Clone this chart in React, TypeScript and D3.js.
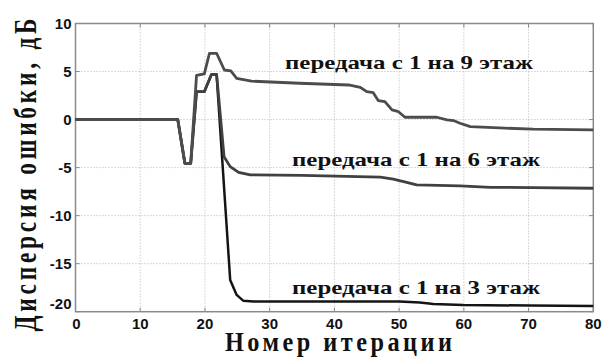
import React from "react";
import * as d3 from "d3";

const W = 605;
const H = 358;

const xTicks = [0, 10, 20, 30, 40, 50, 60, 70, 80];
const yTicks = [10, 5, 0, -5, -10, -15, -20];

// curve: transmission from floor 1 to floor 9
const floor9X = [0, 15.8, 16.9, 17.8, 18.7, 19.9, 20.7, 21.8, 23, 24, 24.9, 27.2, 34.6, 42.2, 44, 45, 46, 46.8, 47.8, 48.9, 49.9, 50.9, 55.8, 57.4, 58.4, 59.4, 61, 65.5, 70.7, 80];
const floor9Y = [0, 0, -4.55, -4.55, 4.6, 4.75, 6.9, 6.9, 5.16, 5.06, 4.3, 4.0, 3.78, 3.6, 3.36, 2.9, 2.8, 1.97, 1.86, 1.0, 0.82, 0.24, 0.24, -0.04, -0.1, -0.38, -0.73, -0.87, -1.0, -1.08];

// curve: transmission from floor 1 to floor 6
const floor6X = [0, 15.8, 16.9, 17.8, 18.7, 19.9, 21.0, 21.8, 22.95, 23.9, 25.2, 27, 35, 47.1, 49.1, 50.7, 52.7, 59.4, 64.1, 70.7, 80];
const floor6Y = [0, 0, -4.55, -4.55, 2.9, 2.9, 4.7, 4.7, -3.86, -4.9, -5.5, -5.76, -5.8, -6.0, -6.2, -6.46, -6.8, -6.9, -7.05, -7.08, -7.15];

// curve: transmission from floor 1 to floor 3
const floor3X = [0, 15.8, 16.9, 17.8, 18.7, 19.9, 21.0, 21.8, 23.9, 24.9, 25.9, 27.5, 50.1, 53.2, 55.3, 59.9, 70.2, 80];
const floor3Y = [0, 0, -4.55, -4.55, 2.9, 2.9, 4.7, 4.7, -16.7, -18.25, -18.85, -18.95, -18.95, -19.05, -19.2, -19.3, -19.36, -19.4];

const labels = ["передача с 1 на 9 этаж", "передача с 1 на 6 этаж", "передача с 1 на 3 этаж"];
const labelX = [285, 292, 292];
const labelY = [68.5, 166, 294];

const xTitle = "Номер итерации";
const yTitle = "Дисперсия ошибки, дБ";

export default function App() {
  const left = 75.5, right = 593.3, top = 23.5, bottom = 311.7;
  const x = d3.scaleLinear().domain([0, 80]).range([left, right]);
  const y = d3.scaleLinear().domain([-20, 10]).range([bottom, top]);
  const line = d3.line<[number, number]>().x((d) => x(d[0])).y((d) => y(d[1]));
  const mk = (xs: number[], ys: number[]) => xs.map((v, i) => [v, ys[i]] as [number, number]);

  const series = [
    { d: mk(floor3X, floor3Y), c: "#141414", w: 2.5 },
    { d: mk(floor6X, floor6Y), c: "#404040", w: 2.8 },
    { d: mk(floor9X, floor9Y), c: "#4c4c4c", w: 2.8 },
  ];

  const serif = "Liberation Serif, Times New Roman, serif";
  const sans = "Liberation Sans, Arial, sans-serif";
  const xsx = 0.9;
  const ysx = 0.75;

  return (
    <svg width={W} height={H} style={{ position: "absolute", left: 0, top: 0, background: "#fff" }}>
      <rect x={0} y={0} width={W} height={H} fill="#fff" />
      {xTicks.slice(1, -1).map((t) => (
        <line key={"gx" + t} x1={x(t)} x2={x(t)} y1={top} y2={bottom} stroke="#b4b4b4" strokeWidth={1} strokeDasharray="1,2" />
      ))}
      {yTicks.slice(1, -1).map((t) => (
        <line key={"gy" + t} x1={left} x2={right} y1={y(t)} y2={y(t)} stroke="#b4b4b4" strokeWidth={1} strokeDasharray="1,2" />
      ))}
      {xTicks.map((t) => (
        <g key={"tx" + t}>
          <line x1={x(t)} x2={x(t)} y1={bottom} y2={bottom - 4} stroke="#888" />
          <line x1={x(t)} x2={x(t)} y1={top} y2={top + 4} stroke="#888" />
        </g>
      ))}
      {yTicks.map((t) => (
        <g key={"ty" + t}>
          <line x1={left} x2={left + 4} y1={y(t)} y2={y(t)} stroke="#888" />
          <line x1={right} x2={right - 4} y1={y(t)} y2={y(t)} stroke="#888" />
        </g>
      ))}
      <rect x={left} y={top} width={right - left} height={bottom - top} fill="none" stroke="#8a8a8a" strokeWidth={1.5} />
      {series.map((s, i) => (
        <path key={i} d={line(s.d) || ""} fill="none" stroke={s.c} strokeWidth={s.w} strokeLinejoin="round" />
      ))}
      {yTicks.map((t) => (
        <text key={"ly" + t} x={left - 4} y={t === -20 ? y(t) - 8 : y(t)} dy="0.36em" textAnchor="end"
          fontFamily={sans} fontWeight="bold" fontSize={15} fill="#111">
          {t}
        </text>
      ))}
      {xTicks.map((t) => (
        <text key={"lx" + t} x={t === 0 ? x(t) + 1 : x(t)} y={bottom + 11.5} dy="0.36em" textAnchor="middle"
          fontFamily={sans} fontWeight="bold" fontSize={15} fill="#111">
          {t}
        </text>
      ))}
      {labels.map((l, i) => (
        <text key={"an" + i} x={labelX[i]} y={labelY[i]} fontFamily={serif}
          fontWeight="bold" fontSize={19} textLength={248} lengthAdjust="spacingAndGlyphs" fill="#111">
          {l}
        </text>
      ))}
      <text transform={`translate(225,351) scale(${xsx},1)`} x={0} y={0} fontFamily={serif} fontWeight="bold" fontSize={27}
        textLength={227 / xsx} lengthAdjust="spacing" fill="#111">
        {xTitle}
      </text>
      <text transform={`translate(36,331.5) rotate(-90) scale(${ysx},1)`} x={0} y={0} fontFamily={serif}
        fontWeight="bold" fontSize={31} textLength={313 / ysx} lengthAdjust="spacing" fill="#111">
        {yTitle}
      </text>
    </svg>
  );
}
